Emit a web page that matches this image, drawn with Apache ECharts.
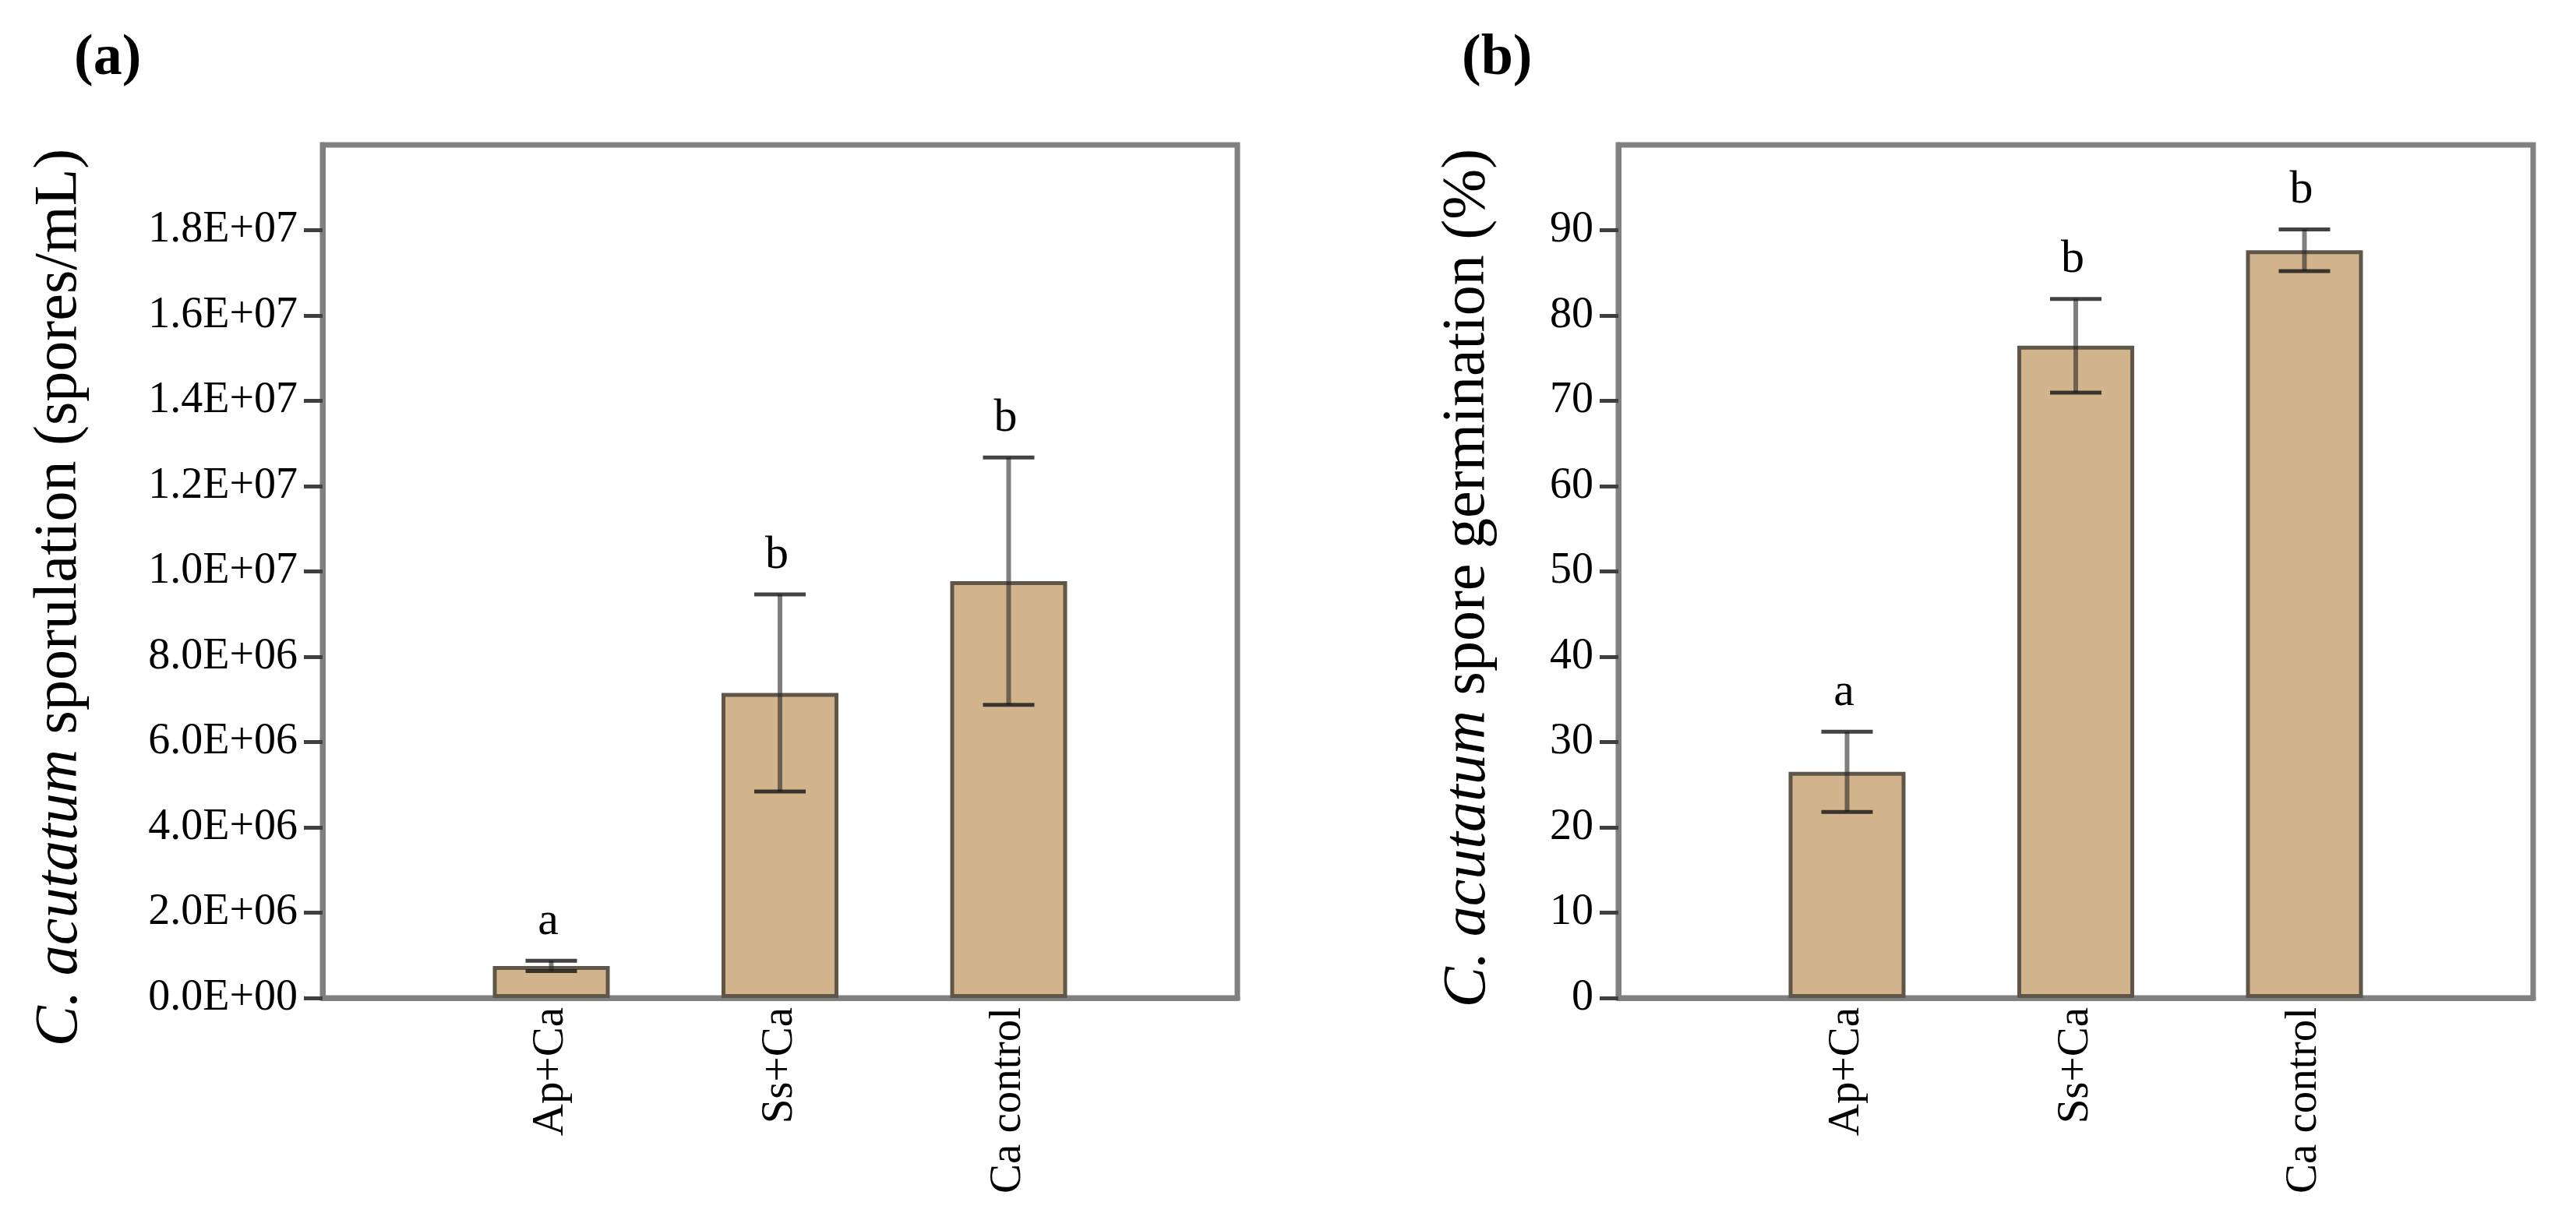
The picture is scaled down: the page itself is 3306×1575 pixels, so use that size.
<!DOCTYPE html>
<html>
<head>
<meta charset="utf-8">
<script src="https://cdn.jsdelivr.net/npm/echarts@6/dist/echarts.min.js"></script>
<style>
html, body { margin: 0; padding: 0; background: #fff; }
#chart { width: 3306px; height: 1575px; }
</style>
</head>
<body>
<div id="chart"></div>
<script>
// treatments
var categories = ['Ap+Ca', 'Ss+Ca', 'Ca control'];

// (a) sporulation, spores/mL
var sporulation = [0.75e6, 7.15e6, 9.77e6];
var sporulationErr = [0.12e6, 2.31e6, 2.9e6];
var sporulationLetters = ['a', 'b', 'b'];
var ticksA = [0, 2e6, 4e6, 6e6, 8e6, 10e6, 12e6, 14e6, 16e6, 18e6];
var tickLabelsA = ['0.0E+00', '2.0E+06', '4.0E+06', '6.0E+06', '8.0E+06',
                   '1.0E+07', '1.2E+07', '1.4E+07', '1.6E+07', '1.8E+07'];

// (b) germination, %
var germination = [26.5, 76.45, 87.65];
var germinationErr = [4.7, 5.5, 2.45];
var germinationLetters = ['a', 'b', 'b'];
var ticksB = [0, 10, 20, 30, 40, 50, 60, 70, 80, 90];
var tickLabelsB = ['0', '10', '20', '30', '40', '50', '60', '70', '80', '90'];

var FONT = '"Liberation Serif", "Times New Roman", serif';
var GRAY = '#808080';

var dom = document.getElementById('chart');
var myChart = echarts.init(dom);

// blank slots at both ends so the bars sit at 1/4, 2/4, 3/4 of the box
var xData = [''].concat(categories).concat(['']);

function padded(arr) {
    return ['-'].concat(arr).concat(['-']);
}

function errData(vals, errs) {
    var out = [];
    for (var i = 0; i < vals.length; i++) {
        out.push([i + 1, vals[i], errs[i]]);
    }
    return out;
}

function makeErrRender(letters) {
    return function (params, api) {
        var x = api.value(0), v = api.value(1), e = api.value(2);
        var top = api.coord([x, v + e]);
        var bot = api.coord([x, v - e]);
        var half = 33;
        var lineStyle = { stroke: 'rgba(40,40,40,0.6)', lineWidth: 6 };
        var capStyle = { stroke: 'rgba(20,20,20,0.8)', lineWidth: 5 };
        return {
            type: 'group',
            children: [
                { type: 'line', shape: { x1: top[0], y1: top[1], x2: bot[0], y2: bot[1] }, style: lineStyle },
                { type: 'line', shape: { x1: top[0] - half, y1: top[1], x2: top[0] + half, y2: top[1] }, style: capStyle },
                { type: 'line', shape: { x1: bot[0] - half, y1: bot[1], x2: bot[0] + half, y2: bot[1] }, style: capStyle },
                {
                    type: 'text',
                    style: {
                        text: letters[params.dataIndex],
                        x: top[0] - 4, y: top[1] - 20,
                        align: 'center', verticalAlign: 'bottom',
                        textAlign: 'center', textVerticalAlign: 'bottom',
                        font: '60px ' + FONT, fill: '#000'
                    }
                }
            ]
        };
    };
}

function xAxisOf(gi) {
    return {
        type: 'category', gridIndex: gi, data: xData, boundaryGap: false,
        axisLine: { show: true, lineStyle: { color: GRAY, width: 7 } },
        axisTick: { show: false },
        axisLabel: { interval: 0, rotate: 90, margin: 12, color: '#000', fontFamily: FONT, fontSize: 57 },
        splitLine: { show: false }
    };
}

function yAxisOf(gi, max, ticks, labels) {
    return {
        type: 'value', gridIndex: gi, min: 0, max: max,
        axisLine: { show: true, lineStyle: { color: GRAY, width: 7 } },
        axisTick: { show: true, length: 24, customValues: ticks, lineStyle: { color: '#404040', width: 5 } },
        axisLabel: {
            customValues: ticks, margin: 32, color: '#000', fontFamily: FONT, fontSize: 56,
            formatter: function (val) {
                var k = ticks.indexOf(val);
                return k >= 0 ? labels[k] : '';
            }
        },
        splitLine: { show: false }
    };
}

var gridStyle = { show: true, borderColor: GRAY, borderWidth: 7, backgroundColor: 'transparent', containLabel: false, outerBoundsMode: 'none' };

var titleRich = {
    n: { fontSize: 78, fontFamily: FONT, fill: '#000' },
    i: { fontSize: 78, fontFamily: FONT, fontStyle: 'italic', fill: '#000' }
};

option = {
    backgroundColor: '#fff',
    animation: false,
    grid: [
        Object.assign({ left: 414, top: 186, width: 1174, height: 1095 }, gridStyle),
        Object.assign({ left: 2077, top: 186, width: 1174, height: 1095 }, gridStyle)
    ],
    xAxis: [xAxisOf(0), xAxisOf(1)],
    yAxis: [
        yAxisOf(0, 2e7, ticksA, tickLabelsA),
        yAxisOf(1, 100, ticksB, tickLabelsB)
    ],
    graphic: [
        { type: 'text', x: 95, y: 76, style: { text: '(a)', font: 'bold 74px ' + FONT, fill: '#000', align: 'left', verticalAlign: 'middle', textAlign: 'left', textVerticalAlign: 'middle' } },
        { type: 'text', x: 1876, y: 76, style: { text: '(b)', font: 'bold 74px ' + FONT, fill: '#000', align: 'left', verticalAlign: 'middle', textAlign: 'left', textVerticalAlign: 'middle' } },
        {
            type: 'text', x: 116, y: 767, rotation: Math.PI / 2,
            style: {
                text: '{i|C. acutatum}{n| sporulation (spores/mL)}',
                align: 'center', verticalAlign: 'bottom', textAlign: 'center', textVerticalAlign: 'bottom',
                fill: '#000', font: '78px ' + FONT,
                rich: titleRich
            }
        },
        {
            type: 'text', x: 1923, y: 742, rotation: Math.PI / 2,
            style: {
                text: '{i|C. acutatum}{n| spore germination (%)}',
                align: 'center', verticalAlign: 'bottom', textAlign: 'center', textVerticalAlign: 'bottom',
                fill: '#000', font: '78px ' + FONT,
                rich: titleRich
            }
        }
    ],
    series: [
        {
            type: 'bar', xAxisIndex: 0, yAxisIndex: 0, barWidth: 150,
            data: padded(sporulation),
            itemStyle: { color: '#d2b48c', borderColor: '#5f5548', borderWidth: 5 }
        },
        {
            type: 'custom', xAxisIndex: 0, yAxisIndex: 0, z: 5,
            renderItem: makeErrRender(sporulationLetters),
            data: errData(sporulation, sporulationErr)
        },
        {
            type: 'bar', xAxisIndex: 1, yAxisIndex: 1, barWidth: 150,
            data: padded(germination),
            itemStyle: { color: '#d2b48c', borderColor: '#5f5548', borderWidth: 5 }
        },
        {
            type: 'custom', xAxisIndex: 1, yAxisIndex: 1, z: 5,
            renderItem: makeErrRender(germinationLetters),
            data: errData(germination, germinationErr)
        }
    ]
};

if (option && typeof option === "object") {
    myChart.setOption(option, true);
}
</script>
</body>
</html>
